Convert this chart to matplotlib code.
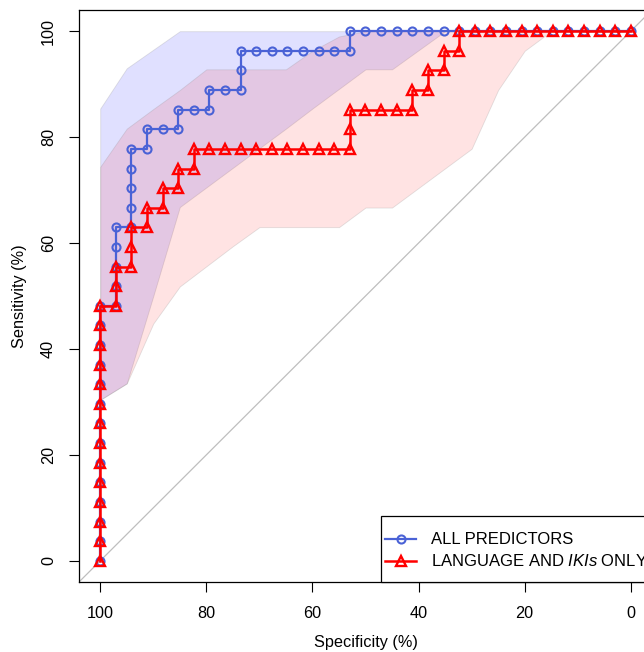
import matplotlib
matplotlib.use('Agg')
import matplotlib.pyplot as plt
from matplotlib.lines import Line2D
from matplotlib.patches import Rectangle

plt.rcParams['font.family'] = ['Liberation Sans', 'DejaVu Sans']
plt.rcParams['mathtext.fontset'] = 'custom'
plt.rcParams['mathtext.rm'] = 'Liberation Sans'
plt.rcParams['mathtext.it'] = 'Liberation Sans:italic'

# ROC curve, all predictors (specificity %, sensitivity %)
all_spec = [100, 100, 100, 100, 100, 100, 100, 100, 100, 100, 100, 100, 100, 100,
            97.06, 97.06, 97.06, 97.06, 97.06,
            94.12, 94.12, 94.12, 94.12, 94.12,
            91.18, 91.18,
            88.24, 85.29, 85.29, 82.35, 79.41, 79.41, 76.47, 73.53, 73.53, 73.53,
            70.59, 67.65, 64.71, 61.76, 58.82, 55.88, 52.94, 52.94,
            50.0, 47.06, 44.12, 41.18, 38.24, 35.29, 32.35, 29.41, 26.47, 23.53,
            20.59, 17.65, 14.71, 11.76, 8.82, 5.88, 2.94, 0.0]
all_sens = [0, 3.7, 7.41, 11.11, 14.81, 18.52, 22.22, 25.93, 29.63, 33.33, 37.04, 40.74, 44.44, 48.15,
            48.15, 51.85, 55.56, 59.26, 62.96,
            62.96, 66.67, 70.37, 74.07, 77.78,
            77.78, 81.48,
            81.48, 81.48, 85.19, 85.19, 85.19, 88.89, 88.89, 88.89, 92.59, 96.3,
            96.3, 96.3, 96.3, 96.3, 96.3, 96.3, 96.3, 100,
            100, 100, 100, 100, 100, 100, 100, 100, 100, 100,
            100, 100, 100, 100, 100, 100, 100, 100]

# ROC curve, language and IKIs only
lang_spec = [100, 100, 100, 100, 100, 100, 100, 100, 100, 100, 100, 100, 100, 100,
             97.06, 97.06, 97.06,
             94.12, 94.12, 94.12,
             91.18, 91.18,
             88.24, 88.24,
             85.29, 85.29,
             82.35, 82.35,
             79.41, 76.47, 73.53, 70.59, 67.65, 64.71, 61.76, 58.82, 55.88, 52.94, 52.94, 52.94,
             50.0, 47.06, 44.12, 41.18, 41.18,
             38.24, 38.24, 35.29, 35.29, 32.35, 32.35,
             29.41, 26.47, 23.53, 20.59, 17.65, 14.71, 11.76, 8.82, 5.88, 2.94, 0.0]
lang_sens = [0, 3.7, 7.41, 11.11, 14.81, 18.52, 22.22, 25.93, 29.63, 33.33, 37.04, 40.74, 44.44, 48.15,
             48.15, 51.85, 55.56,
             55.56, 59.26, 62.96,
             62.96, 66.67,
             66.67, 70.37,
             70.37, 74.07,
             74.07, 77.78,
             77.78, 77.78, 77.78, 77.78, 77.78, 77.78, 77.78, 77.78, 77.78, 77.78, 81.48, 85.19,
             85.19, 85.19, 85.19, 85.19, 88.89,
             88.89, 92.59, 92.59, 96.3, 96.3, 100,
             100, 100, 100, 100, 100, 100, 100, 100, 100, 100, 100]

# confidence shapes of sensitivity at fixed specificities
ci_spec = [100, 95, 90, 85, 80, 75, 70, 65, 60, 55, 50, 45, 40, 35, 30, 25, 20, 15, 10, 5, 0]
all_lo = [30.4, 33.5, 50.0, 66.8, 70.5, 74.2, 77.9, 81.6, 85.4, 89.1, 92.8, 92.8, 96.4, 100,
          100, 100, 100, 100, 100, 100, 100]
all_hi = [85.4, 93.0, 96.5, 100, 100, 100, 100, 100, 100, 100, 100, 100, 100, 100,
          100, 100, 100, 100, 100, 100, 100]
lang_lo = [30.4, 33.5, 44.8, 51.8, 55.6, 59.4, 63.0, 63.0, 63.0, 63.0, 66.7, 66.7, 70.4, 74.1,
           77.8, 88.9, 96.3, 100, 100, 100, 100]
lang_hi = [74.4, 81.6, 85.3, 88.9, 92.8, 92.8, 92.8, 92.8, 96.3, 99.0, 100, 100, 100, 100,
           100, 100, 100, 100, 100, 100, 100]

blue = '#4A62D6'
red = '#FF0000'

fig = plt.figure(figsize=(6.44, 6.52), dpi=100)
ax = fig.add_axes([79/644, 1 - 582/652, 573/644, 572/652])

ax.fill_between(ci_spec, all_lo, all_hi, facecolor=(0, 0, 1, 0.12),
                edgecolor=(0.55, 0.55, 0.55, 0.25), linewidth=0.6, zorder=1)
ax.fill_between(ci_spec, lang_lo, lang_hi, facecolor=(1, 0, 0, 0.11),
                edgecolor=(0.55, 0.55, 0.55, 0.25), linewidth=0.6, zorder=1)

ax.axline((100, 0), (0, 100), color='#BEBEBE', lw=0.9, zorder=2)

ax.plot(all_spec, all_sens, color=blue, lw=1.6, marker='o', ms=5.8,
        mfc='none', mec=blue, mew=1.5, zorder=3)
ax.plot(lang_spec, lang_sens, color=red, lw=1.8, marker='^', ms=7,
        mfc='none', mec=red, mew=1.7, zorder=4)

ax.set_xlim(104, -4)
ax.set_ylim(-4, 104)
ax.set_xticks([100, 80, 60, 40, 20, 0])
ax.set_yticks([0, 20, 40, 60, 80, 100])
ax.tick_params(direction='out', length=7, width=0.8, labelsize=11.7)
ax.tick_params(axis='x', pad=10)
ax.tick_params(axis='y', pad=9.5)
plt.setp(ax.get_yticklabels(), rotation=90, va='center', ha='right')
for s in ax.spines.values():
    s.set_linewidth(0.9)

ax.set_xlabel('Specificity (%)', fontsize=11.7)
ax.set_ylabel('Sensitivity (%)', fontsize=11.7)
ax.xaxis.set_label_coords(0.5, (582 - 643) / 572)
ax.yaxis.set_label_coords((20 - 79) / 573, 0.5)
ax.xaxis.label.set_va('center')
ax.yaxis.label.set_va('center')

# legend box, drawn by hand like base R's legend()
lx0 = (381 - 79) / 573
ly1 = (582 - 516) / 572
ax.add_patch(Rectangle((lx0, 0), 1.05 - lx0, ly1, transform=ax.transAxes,
                       facecolor='white', edgecolor='black', lw=0.9,
                       clip_on=False, zorder=5))
rows = [((582 - 539) / 572, blue, 'o', 5.8, 1.6, 'ALL PREDICTORS'),
        ((582 - 561) / 572, red, '^', 7, 1.8, r'LANGUAGE AND $\mathit{IKIs}$ ONLY')]
hx0 = (385 - 79) / 573
hx1 = (416 - 79) / 573
tx = (431 - 79) / 573
for yy, c, m, ms, lw, lab in rows:
    ax.add_line(Line2D([hx0, hx1], [yy, yy], transform=ax.transAxes, color=c, lw=lw,
                       clip_on=False, zorder=6))
    ax.add_line(Line2D([(hx0 + hx1) / 2], [yy], transform=ax.transAxes, marker=m, ms=ms,
                       mfc='none', mec=c, mew=lw - 0.1, clip_on=False, zorder=6))
    ax.text(tx, yy, lab, transform=ax.transAxes, fontsize=12, va='center', ha='left',
            zorder=7, clip_on=False)

fig.savefig('out.png', dpi=100)
